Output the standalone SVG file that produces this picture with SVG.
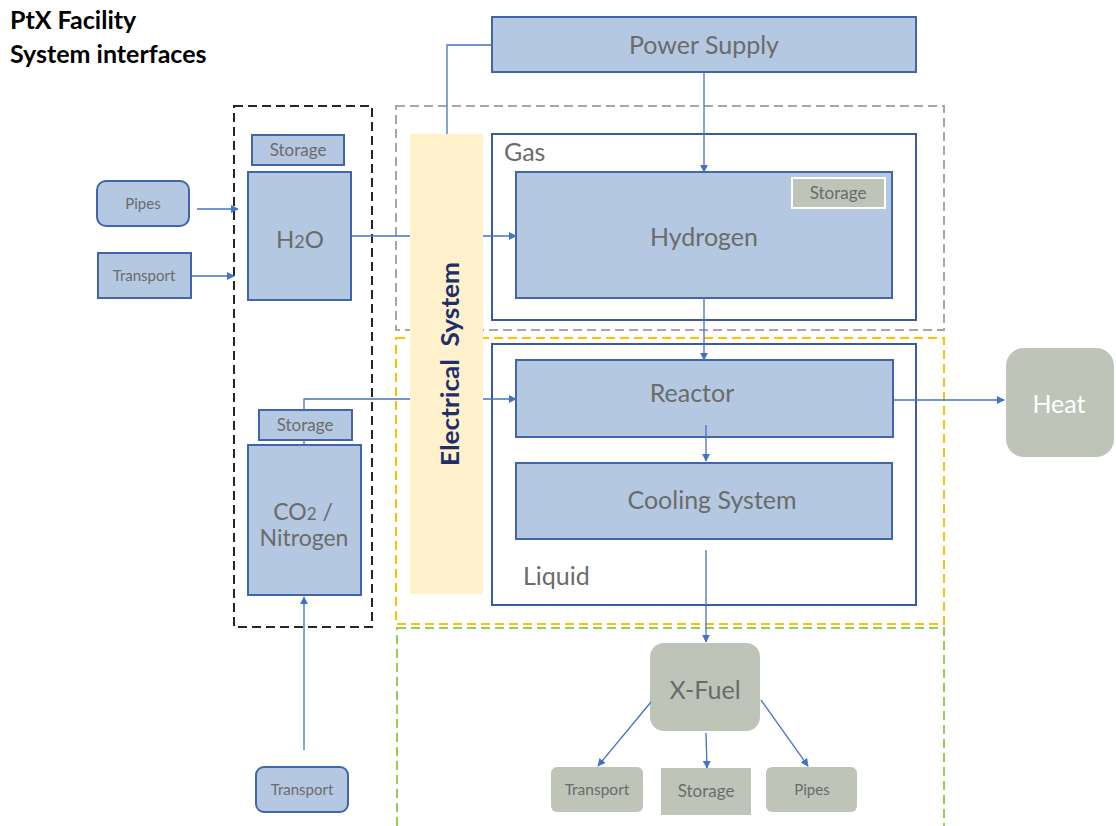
<svg xmlns="http://www.w3.org/2000/svg" width="1116" height="826" viewBox="0 0 1116 826">
<style>
.box{fill:#b4c8e1;stroke:#4165a8;stroke-width:2}
.gbox{fill:#bfc4b9;stroke:none}
.t{font-family:Lato,"Open Sans",sans-serif;fill:#6b6b6b;text-anchor:middle}
.s{text-anchor:start}
.c{stroke:#4472c4;stroke-width:1.3;fill:none}
.ca{stroke:#4472c4;stroke-width:1.3;fill:none;marker-end:url(#ah)}
</style>
<defs>
<marker id="ah" viewBox="0 0 10 10" refX="9" refY="5" markerWidth="8" markerHeight="8" markerUnits="userSpaceOnUse" orient="auto">
<path d="M0,0 L10,5 L0,10 z" fill="#4472c4"/>
</marker>
</defs>
<rect width="1116" height="826" fill="#ffffff"/>
<g id="title" font-family="Lato,'Open Sans',sans-serif" font-weight="bold" font-size="25" fill="#000">
<text x="10" y="29">PtX Facility</text>
<text x="10" y="63">System interfaces</text>
</g>
<g id="containers" fill="none" stroke-width="2">
<rect x="234" y="106" width="138" height="521" stroke="#262626" stroke-dasharray="9,5"/>
<rect x="396" y="106" width="548" height="224" stroke="#a6a6a6" stroke-dasharray="9,5"/>
<rect x="396" y="338" width="548" height="286" stroke="#ffc000" stroke-dasharray="9,5"/>
<rect x="397" y="628" width="547" height="210" stroke="#92d050" stroke-dasharray="9,5"/>
</g>
<g id="power-supply">
<rect class="box" x="492" y="17" width="424" height="55"/>
<text class="t" x="704" y="54" font-size="25">Power Supply</text>
</g>
<g id="electrical-system">
<rect x="410" y="134" width="73" height="460" fill="#fef1cc"/>
<text transform="translate(459,364) rotate(-90)" text-anchor="middle" font-family="Lato,'Open Sans',sans-serif" font-weight="bold" font-size="25" fill="#1f2f6b" xml:space="preserve" textLength="204" lengthAdjust="spacingAndGlyphs">Electrical  System</text>
</g>
<g id="gas">
<rect x="492" y="134" width="424" height="186" fill="#fff" stroke="#3a5ba0" stroke-width="2"/>
<text class="t s" x="504" y="161" font-size="25">Gas</text>
</g>
<g id="hydrogen">
<rect class="box" x="516" y="172" width="376" height="126"/>
<text class="t" x="704" y="246" font-size="25">Hydrogen</text>
</g>
<g id="hydrogen-storage">
<rect x="792" y="178" width="93" height="30" fill="#bfc4b9" stroke="#fff" stroke-width="2"/>
<text class="t" x="838" y="199" font-size="17">Storage</text>
</g>
<g id="liquid">
<rect x="492" y="344" width="424" height="261" fill="#fff" stroke="#3a5ba0" stroke-width="2"/>
<text class="t s" x="523" y="585" font-size="25">Liquid</text>
</g>
<g id="reactor">
<rect class="box" x="516" y="360" width="377" height="77"/>
<text class="t" x="692" y="402" font-size="25">Reactor</text>
</g>
<g id="cooling-system">
<rect class="box" x="516" y="463" width="376" height="76"/>
<text class="t" x="712" y="509" font-size="25">Cooling System</text>
</g>
<g id="heat">
<rect class="gbox" x="1006" y="348" width="108" height="109" rx="18"/>
<text x="1059" y="413" font-family="Lato,'Open Sans',sans-serif" font-size="25" fill="#fff" text-anchor="middle">Heat</text>
</g>
<g id="h2o-storage">
<rect class="box" x="252" y="135" width="92" height="30"/>
<text class="t" x="298" y="156" font-size="17">Storage</text>
</g>
<g id="h2o">
<rect class="box" x="248" y="172" width="103" height="128"/>
<text class="t" x="300" y="248" font-size="24">H<tspan font-size="18">2</tspan>O</text>
</g>
<g id="pipes-in">
<rect class="box" x="97" y="181" width="92" height="45" rx="9"/>
<text class="t" x="143" y="209" font-size="15">Pipes</text>
</g>
<g id="transport-in">
<rect class="box" x="98" y="253" width="93" height="45"/>
<text class="t" x="144" y="281" font-size="15">Transport</text>
</g>
<g id="co2-storage">
<rect class="box" x="259" y="410" width="93" height="30"/>
<text class="t" x="305" y="431" font-size="17">Storage</text>
</g>
<g id="co2-nitrogen">
<rect class="box" x="248" y="445" width="113" height="150"/>
<text class="t" x="303" y="520" font-size="23">CO<tspan font-size="17">2</tspan> /</text>
<text class="t" x="304" y="546" font-size="23">Nitrogen</text>
</g>
<g id="transport-bottom">
<rect class="box" x="256" y="767" width="92" height="45" rx="8"/>
<text class="t" x="302" y="795" font-size="15">Transport</text>
</g>
<g id="x-fuel">
<rect class="gbox" x="650" y="643" width="110" height="88" rx="14"/>
<text class="t" x="705" y="699" font-size="25">X-Fuel</text>
</g>
<g id="transport-out">
<rect class="gbox" x="551" y="767" width="92" height="45" rx="6"/>
<text class="t" x="597" y="795" font-size="15.5">Transport</text>
</g>
<g id="storage-out">
<rect class="gbox" x="661" y="768" width="90" height="47"/>
<text class="t" x="706" y="797" font-size="17">Storage</text>
</g>
<g id="pipes-out">
<rect class="gbox" x="766" y="767" width="91" height="45" rx="6"/>
<text class="t" x="812" y="795" font-size="15">Pipes</text>
</g>
<g id="connectors">
<polyline class="c" points="492,45 447,45 447,134"/>
<line class="ca" x1="704" y1="72" x2="704" y2="172"/>
<line class="c" x1="351" y1="236" x2="410" y2="236"/>
<line class="ca" x1="483" y1="236" x2="516" y2="236"/>
<polyline class="c" points="304,410 304,399 410,399"/>
<line class="ca" x1="483" y1="399" x2="516" y2="399"/>
<line class="c" x1="304" y1="440" x2="304" y2="445"/>
<line class="ca" x1="197" y1="209" x2="238" y2="209"/>
<line class="ca" x1="192" y1="276" x2="234" y2="276"/>
<line class="ca" x1="304" y1="750" x2="304" y2="597"/>
<line class="c" x1="704" y1="298" x2="704" y2="344"/>
<line class="ca" x1="704" y1="344" x2="704" y2="360"/>
<line class="ca" x1="706" y1="425" x2="706" y2="461"/>
<line class="ca" x1="893" y1="400" x2="1004" y2="400"/>
<line class="ca" x1="706" y1="550" x2="706" y2="642"/>
<line class="ca" x1="651" y1="702" x2="598" y2="766"/>
<line class="ca" x1="706" y1="733" x2="707" y2="768"/>
<line class="ca" x1="761" y1="700" x2="808" y2="766"/>
</g>
</svg>
